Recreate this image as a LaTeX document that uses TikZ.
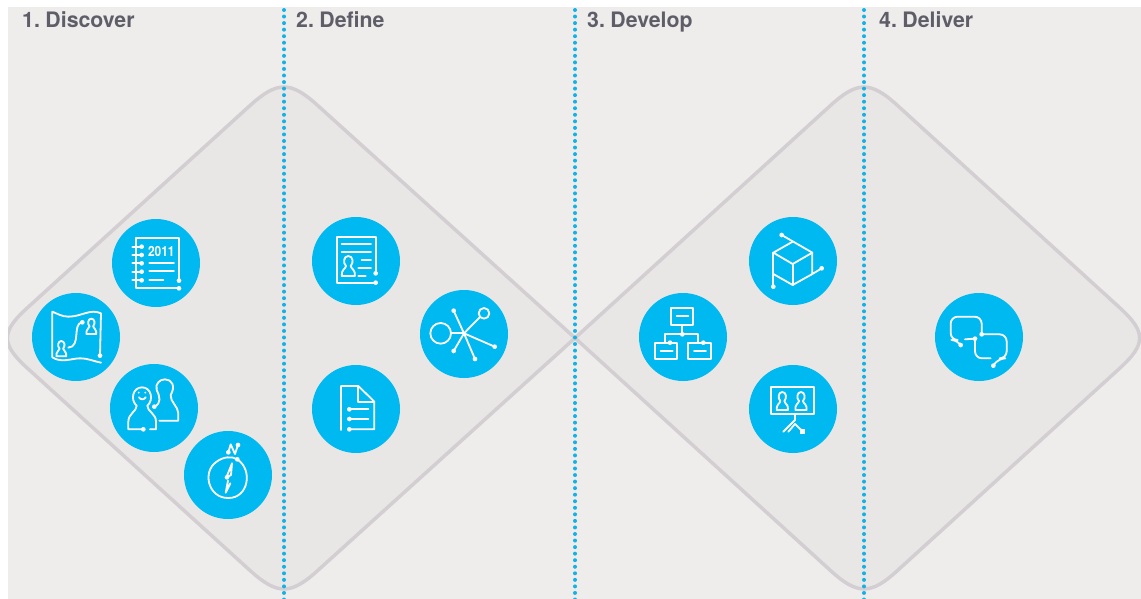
\documentclass[tikz,border=0pt]{standalone}
\usepackage{fontspec}
\usepackage{graphicx}
\setmainfont[WordSpace=0.6]{TeX Gyre Heros}
\definecolor{bgc}{HTML}{EEEDEC}
\definecolor{diafill}{HTML}{E8E7E6}
\definecolor{diaedge}{HTML}{D3CED2}
\definecolor{bluec}{HTML}{00B9F1}
\definecolor{dotc}{HTML}{12B2E6}
\definecolor{titlec}{HTML}{5F5E68}
\newcommand\idot[1]{\fill[white] (#1) circle (7);}
\newcommand\minifigure[4]{\begin{scope}[shift={(#1,#2)},xscale=#3,yscale=#4]
  \draw[icon] (-14,20) -- (14,20) .. controls (16,8) and (6,6) .. (5,0)
      .. controls (12,-6) and (10,-20) .. (0,-20) .. controls (-10,-20) and (-12,-6) .. (-5,0)
      .. controls (-6,6) and (-16,8) .. (-14,20) -- cycle;
\end{scope}}
\tikzset{
  diamondshape/.style={draw=diaedge,fill=diafill,line width=3.5pt,line join=miter},
  divider/.style={draw=dotc,line width=4pt,line cap=round,dash pattern=on 0pt off 6.55pt},
  bubble/.style={circle,fill=bluec,minimum size=88pt,inner sep=0pt,draw=none},
  heading/.style={anchor=base west,text=titlec,inner sep=0pt,font=\fontsize{21.3}{22}\selectfont\bfseries},
  icon/.style={draw=white,line width=1.8pt,line join=round,line cap=round,fill=none}
}
\begin{document}
\begin{tikzpicture}[x=1pt,y=-1pt]
\useasboundingbox (0,0) rectangle (1141,599);
\fill[white] (0,0) rectangle (1141,599);
\fill[bgc] (8,7) rectangle (1141,599);
\begin{scope}
  \clip (8,7) rectangle (1141,599);
  \draw[diamondshape] (575,338) -- (317.4,105.2) .. controls (290.7,81) and (277.3,81) .. (250.6,105)
     -- (27.4,307.8) .. controls (0.7,332) and (0.7,344) .. (27.4,368.2)
     -- (250.6,571) .. controls (277.3,595) and (290.7,595) .. (317.4,570.8) -- cycle;
  \draw[diamondshape] (575,338) -- (830.7,105.3) .. controls (857.3,81) and (870.7,81) .. (897.3,105.3)
     -- (1119.7,307.7) .. controls (1146.3,332) and (1146.3,344) .. (1119.7,368.3)
     -- (897.3,570.7) .. controls (870.7,595) and (857.3,595) .. (830.7,570.7) -- cycle;
\end{scope}
\coordinate (d1a) at (284,10); \coordinate (d1b) at (284,604);
\coordinate (d2a) at (575,10); \coordinate (d2b) at (575,604);
\coordinate (d3a) at (864,10); \coordinate (d3b) at (864,604);
\draw[divider] (d1a) -- (d1b);
\draw[divider] (d2a) -- (d2b);
\draw[divider] (d3a) -- (d3b);
\node[heading] (t1) at (22,28) {1. Discover};
\node[heading] (t2) at (296,28) {2. Define};
\node[heading] (t3) at (587,28) {3. Develop};
\node[heading] (t4) at (879,28) {4. Deliver};
\node[bubble] (b1) at (156,263) {};
\node[bubble] (b2) at (76,337) {};
\node[bubble] (b3) at (154,408) {};
\node[bubble] (b4) at (228,475) {};
\node[bubble] (b5) at (356,261) {};
\node[bubble] (b6) at (464,334) {};
\node[bubble] (b7) at (356,409) {};
\node[bubble] (b8) at (683,337) {};
\node[bubble] (b9) at (793,261) {};
\node[bubble] (b10) at (793,409) {};
\node[bubble] (b11) at (979,337) {};
% first group of icons
\begin{scope}[shift={(0,200)},scale=1/3]
  % notebook
  \draw[icon] (537,242) -- (537,115) -- (408,115) -- (408,265) -- (537,265);
  \foreach \yy in {140,165,190,215,241} {\draw[icon] (397,\yy) -- (425,\yy); \idot{425,\yy}}
  \idot{537,242}\idot{537,265}
  \node[text=white,inner sep=0pt,font=\fontsize{14}{14}\selectfont\bfseries] (yr) at (484,155) {\scalebox{0.85}[1]{2011}};
  \draw[icon] (448,190) -- (522,190) (448,214) -- (522,214) (448,241) -- (490,241);
  % map
  \draw[icon] (300,467) -- (303,340) .. controls (270,325) and (245,350) .. (205,350) .. controls (185,350) and (170,340) .. (157,335) -- (157,472)
     .. controls (185,490) and (215,475) .. (240,475) .. controls (265,475) and (285,485) .. (303,488);
  \idot{300,467}
  \draw[icon] (247,367) .. controls (215,370) and (245,440) .. (205,443);
  \idot{247,367}
  \minifigure{274}{379}{1.05}{1.15}
  \minifigure{184}{446}{1.05}{1.15}
  % people
  \draw[icon] (430,688) -- (385,688) -- (385,665) .. controls (385,640) and (410,635) .. (410,617)
     .. controls (390,600) and (398,562) .. (426,562) .. controls (454,562) and (462,600) .. (442,617)
     .. controls (442,635) and (468,640) .. (468,665) -- (468,688) -- (450,688);
  \idot{430,688}
  \draw[icon] (463,620) .. controls (485,610) and (480,590) .. (470,570) .. controls (465,550) and (480,538) .. (495,538)
     .. controls (515,538) and (528,558) .. (512,585) .. controls (510,605) and (535,620) .. (535,640) -- (535,662) -- (478,662);
  \idot{463,620}
  \fill[white] (416,578) circle (3) (436,578) circle (3);
  \draw[icon] (417,592) .. controls (422,600) and (432,600) .. (437,592);
  % compass
  \draw[icon] (712,778) .. controls (760,810) and (745,895) .. (685,894) .. controls (625,895) and (605,815) .. (650,785) .. controls (670,770) and (695,768) .. (712,778);
  \idot{712,778}
  \draw[icon] (685,757) -- (692,733) -- (705,762) -- (714,735);
  \idot{685,757}\idot{714,735}
  \draw[icon] (696,790) -- (680,830) (696,790) -- (693,825) -- (681,832);
  \idot{681,832}
  \draw[icon] (684,842) -- (677,878) -- (691,850);
\end{scope}
% second group
\begin{scope}[shift={(290,200)},scale=1/3]
  \draw[icon] (257,220) -- (257,112) -- (140,112) -- (140,248) -- (257,248);
  \idot{257,220}\idot{257,248}
  \draw[icon] (155,132) -- (243,132) (155,157) -- (243,157) (215,180) -- (243,180) (205,203) -- (243,203) (205,228) -- (227,228);
  \minifigure{175}{198}{1.4}{1.5}
  \draw[icon] (452,400) circle (31);
  \draw[icon] (483,400) -- (522,400);
  \draw[icon] (491,332) -- (522,400) -- (555,477);
  \draw[icon] (570,351) -- (522,400) -- (491,453);
  \draw[icon] (522,400) -- (614,440);
  \draw[icon] (582,340) circle (16);
  \idot{491,332}\idot{614,440}\idot{555,477}\idot{491,453}
  \draw[icon] (153,690) -- (153,558) -- (205,558) -- (253,605) -- (253,688) -- (178,688);
  \draw[icon] (205,558) -- (205,605) -- (253,605);
  \draw[icon] (178,628) -- (235,628) (178,657) -- (235,657);
  \idot{178,628}\idot{178,657}\idot{178,688}
\end{scope}
% third group
\begin{scope}[shift={(620,200)},scale=1/3]
  \draw[icon] (485,105) -- (577,158) -- (577,222) -- (518,255) -- (460,222);
  \draw[icon] (518,125) -- (460,158) -- (518,192) -- (577,158);
  \draw[icon] (518,192) -- (518,255);
  \draw[icon] (460,260) -- (460,158);
  \draw[icon] (577,222) -- (605,205);
  \idot{485,105}\idot{605,205}\idot{460,260}
  \draw[icon] (153,323) rectangle (220,375);
  \draw[icon] (170,348) -- (205,348);
  \draw[icon] (187,375) -- (187,403);
  \draw[icon] (135,428) -- (135,403) -- (235,403) -- (235,428);
  \idot{187,403}
  \draw[icon] (105,428) rectangle (170,476);
  \draw[icon] (205,428) rectangle (272,476);
  \idot{150,428}\idot{250,428}
  \draw[icon] (122,453) -- (158,453) (222,453) -- (258,453);
  \draw[icon] (453,560) rectangle (583,642);
  \minifigure{487}{603}{1.2}{1.35}
  \minifigure{543}{603}{1.2}{1.35}
  \draw[icon] (525,642) -- (525,660) -- (490,695);
  \draw[icon] (505,695) -- (525,672) -- (546,692);
  \fill[white] (539,687) rectangle (554,701);
\end{scope}
% fourth group
\begin{scope}[shift={(920,280)},scale=1/3]
  \draw[icon,rounded corners=7pt] (122,195) -- (115,180) -- (92,180) -- (92,110) -- (185,110) -- (185,163);
  \draw[icon] (135,178) -- (165,176);
  \draw[icon,rounded corners=7pt] (165,176) -- (165,235) -- (212,235);
  \draw[icon,rounded corners=7pt] (185,163) -- (260,163) -- (260,235) -- (235,235) -- (220,257);
  \idot{122,195}\idot{165,176}\idot{185,163}\idot{220,257}
\end{scope}
\end{tikzpicture}
\end{document}
